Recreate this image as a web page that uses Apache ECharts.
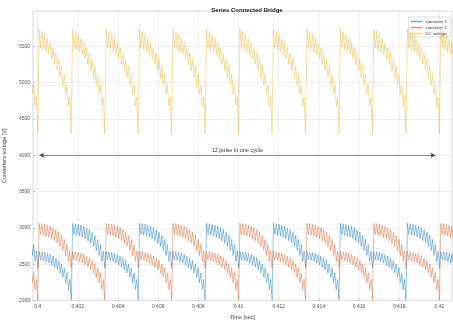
<!DOCTYPE html>
<html>
<head>
<meta charset="utf-8">
<script src="https://cdn.jsdelivr.net/npm/echarts@6/dist/echarts.min.js"></script>
<style>
  html, body { margin: 0; padding: 0; background: #fff; }
  #chart { width: 453px; height: 321px; }
</style>
</head>
<body>
<div id="chart"></div>
<script>
// One 6-pulse bridge period (s) and the DC (12-pulse) period
const bridgePeriod = 1 / 300;
const dcPeriod = bridgePeriod / 2;

// Commutation instants where each bridge's period begins (s)
const conv1Starts = [0.39841, 0.40174, 0.40507, 0.40841, 0.41174, 0.41507, 0.41841];
const conv2Starts = [0.39674, 0.40007, 0.40341, 0.40674, 0.41007, 0.41341, 0.41674, 0.42007];
const dcStarts = [0.39841, 0.40007, 0.40174, 0.40341, 0.40507, 0.40674, 0.40841,
                  0.41007, 0.41174, 0.41341, 0.41507, 0.41674, 0.41841, 0.42007];

// Bridge voltage over one period: crest and trough of each switching stripe (V)
const bridgeTop = [3063, 3058, 3050, 3038, 3022, 3000, 2975, 2940, 2895, 2840, 2770, 2680,
                   2675, 2670, 2662, 2650, 2635, 2612, 2585, 2550, 2505, 2450, 2380, 2290];
const bridgeBot = [2910, 2900, 2888, 2870, 2850, 2822, 2790, 2745, 2690, 2620, 2540, 2450,
                   2560, 2550, 2535, 2515, 2490, 2460, 2425, 2380, 2320, 2245, 2150, 2010];

// DC link voltage over one 12-pulse period (V)
const dcTop = [5735, 5705, 5665, 5605, 5545, 5480, 5410, 5325, 5225, 5110, 4970, 4800];
const dcBot = [5480, 5455, 5425, 5390, 5330, 5250, 5165, 5070, 4960, 4840, 4680, 4300];

// Axis ticks
const xTicks = [0.4, 0.402, 0.404, 0.406, 0.408, 0.41, 0.412, 0.414, 0.416, 0.418, 0.42];
const xRange = [0.399766, 0.42063];
const yRange = [2000, 5985];

// Span of the "12 pulse" annotation
const arrowSpan = [0.40008, 0.4198];
const arrowLevel = 4000;
const arrowText = '12 pulse in one cycle';

// Series colours
const colors = { conv1: '#0072BD', conv2: '#D95319', dc: '#EDB120' };

// Lay the stripe envelope out over every period: each switching stripe
// swings from its crest down to its trough, then up to the next crest.
function buildWave(starts, period, top, bot) {
  const pts = [];
  const n = top.length;
  const dt = period / n;
  starts.forEach(s => {
    for (let k = 0; k < n; k++) {
      pts.push([s + k * dt, top[k]]);
      pts.push([s + (k + 0.5) * dt, bot[k]]);
    }
    pts.push([s + period - dt * 0.02, bot[n - 1]]);
  });
  return pts;
}

const conv1 = buildWave(conv1Starts, bridgePeriod, bridgeTop, bridgeBot);
const conv2 = buildWave(conv2Starts, bridgePeriod, bridgeTop, bridgeBot);
const dc = buildWave(dcStarts, dcPeriod, dcTop, dcBot);

const chart = echarts.init(document.getElementById('chart'), null, { renderer: 'canvas' });

const fontFam = 'Helvetica, Arial, "Liberation Sans", sans-serif';
const waveStyle = (color) => ({ color: color, width: 0.7, opacity: 0.6 });

chart.setOption({
  animation: false,
  backgroundColor: '#fff',
  textStyle: { fontFamily: fontFam },
  title: {
    text: 'Series Connected Bridge',
    left: 242, top: 2, textAlign: 'center',
    textStyle: { fontSize: 6, fontWeight: 'bold', color: '#222', fontFamily: fontFam }
  },
  legend: {
    orient: 'vertical',
    right: 3, top: 17,
    icon: 'rect',
    itemWidth: 12, itemHeight: 1.5, itemGap: 2,
    padding: [2.5, 3, 1.5, 2],
    backgroundColor: '#fff',
    borderColor: '#bbb', borderWidth: 0.5,
    itemStyle: { borderWidth: 0 },
    textStyle: { fontSize: 4.3, color: '#333', padding: [0, 0, 0, -2] },
    data: [
      { name: 'converter 1', itemStyle: { color: colors.conv1, opacity: 0.6, borderWidth: 0 } },
      { name: 'converter 2', itemStyle: { color: colors.conv2, opacity: 0.6, borderWidth: 0 } },
      { name: 'DC voltage', itemStyle: { color: colors.dc, opacity: 0.6, borderWidth: 0 } }
    ]
  },
  grid: {
    left: 33, right: 1, top: 11, bottom: 20.5,
    containLabel: false, outerBoundsMode: 'none',
    show: true, borderColor: '#bdbdbd', borderWidth: 0.6, backgroundColor: '#fff'
  },
  xAxis: {
    type: 'value',
    min: xRange[0], max: xRange[1],
    name: 'Time [sec]', nameLocation: 'middle', nameGap: 12,
    nameTextStyle: { fontSize: 5.5, color: '#444' },
    axisLine: { show: false },
    axisTick: { show: true, inside: true, length: 2, customValues: xTicks, lineStyle: { color: '#999', width: 0.5 } },
    axisLabel: {
      customValues: xTicks, fontSize: 5, color: '#555', margin: 4,
      formatter: v => String(+(+v).toFixed(3))
    },
    splitLine: { show: true, lineStyle: { color: '#e6e6e6', width: 0.6 } }
  },
  yAxis: {
    type: 'value',
    min: yRange[0], max: yRange[1], interval: 500,
    name: 'Converters voltage [V]', nameLocation: 'middle', nameGap: 22,
    nameTextStyle: { fontSize: 5.5, color: '#444' },
    axisLine: { show: false },
    axisTick: { show: true, inside: true, length: 2, lineStyle: { color: '#999', width: 0.5 } },
    axisLabel: { fontSize: 5, color: '#555', margin: 3, showMaxLabel: false, formatter: v => String(v) },
    splitLine: { show: true, lineStyle: { color: '#e6e6e6', width: 0.6 } }
  },
  series: [
    {
      name: 'converter 1', type: 'line', data: conv1,
      symbol: 'none', showSymbol: false, color: colors.conv1,
      lineStyle: waveStyle(colors.conv1), z: 2
    },
    {
      name: 'converter 2', type: 'line', data: conv2,
      symbol: 'none', showSymbol: false, color: colors.conv2,
      lineStyle: waveStyle(colors.conv2), z: 3
    },
    {
      name: 'DC voltage', type: 'line', data: dc,
      symbol: 'none', showSymbol: false, color: colors.dc,
      lineStyle: waveStyle(colors.dc), z: 4,
      markLine: {
        silent: true,
        symbol: ['arrow', 'arrow'],
        symbolSize: [4, 5],
        lineStyle: { color: '#444', width: 0.6, type: 'solid', opacity: 1 },
        label: {
          show: true, position: 'middle', formatter: arrowText,
          fontSize: 5.5, color: '#333', distance: 2
        },
        data: [[
          { coord: [arrowSpan[0], arrowLevel] },
          { coord: [arrowSpan[1], arrowLevel] }
        ]]
      }
    }
  ]
});
</script>
</body>
</html>
